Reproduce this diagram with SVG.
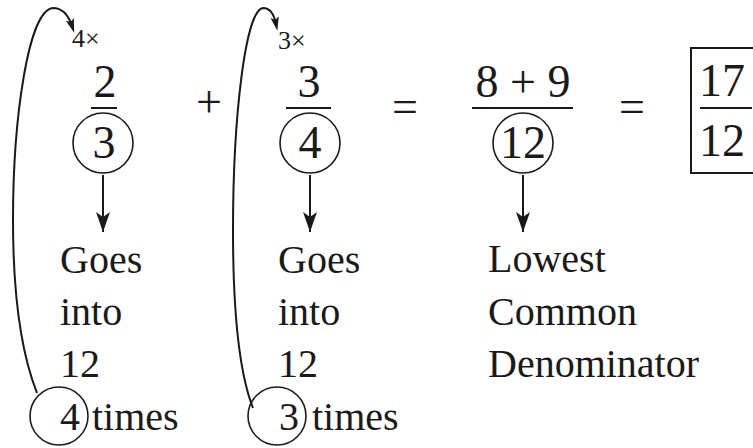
<svg xmlns="http://www.w3.org/2000/svg" width="753" height="448" viewBox="0 0 753 448" font-family="'Liberation Serif', 'DejaVu Serif', serif">
<style>
text{font-family:'Liberation Serif', 'DejaVu Serif', serif;fill:#1a1a1a}
.big{font-size:46px;text-anchor:middle}
.lbl{font-size:40px}
.sm{font-size:26px}
.ring{fill:none;stroke:#1a1a1a;stroke-width:1.6}
.bar{stroke:#1a1a1a;stroke-width:2}
.con{fill:none;stroke:#1a1a1a;stroke-width:2}
</style>
<defs>
<marker id="ah" markerUnits="userSpaceOnUse" markerWidth="14" markerHeight="20" refX="10" refY="10" orient="auto" viewBox="0 0 20 20"><path d="M0,4 L20,10 L0,16 L4,10 Z" fill="#1a1a1a"/></marker>
<marker id="ah2" markerUnits="userSpaceOnUse" markerWidth="20" markerHeight="14" refX="20" refY="7" orient="auto" viewBox="0 0 20 14"><path d="M0,0 L20,7 L0,14 L5,7 Z" fill="#1a1a1a"/></marker>
</defs>
<g id="connectors">
<path class="con" d="M37,393 C20,350 13,290 13,220 C13,120 28,10 53,8 C62,8 68,14 72,26" marker-end="url(#ah)"/>
<path class="con" d="M253,408 C238,370 233,300 233,230 C233,120 245,10 263,8 C270,8 274,14 276,24" marker-end="url(#ah)"/>
<line class="con" x1="103" y1="175" x2="103" y2="232" marker-end="url(#ah2)"/>
<line class="con" x1="310" y1="175" x2="310" y2="232" marker-end="url(#ah2)"/>
<line class="con" x1="523" y1="175" x2="523" y2="232" marker-end="url(#ah2)"/>
</g>
<g id="frac1">
<text class="sm" x="72" y="47">4×</text>
<text class="big" x="105" y="97">2</text>
<line class="bar" x1="91" y1="108" x2="117" y2="108"/>
<circle class="ring" cx="103" cy="143" r="30"/>
<text class="big" x="104" y="158">3</text>
</g>
<g id="plus"><text class="big" x="209" y="117">+</text></g>
<g id="frac2">
<text class="sm" x="278" y="49">3×</text>
<text class="big" x="309" y="97">3</text>
<line class="bar" x1="286" y1="108" x2="331" y2="108"/>
<circle class="ring" cx="310" cy="143" r="30"/>
<text class="big" x="310" y="158">4</text>
</g>
<g id="eq1"><text class="big" x="405" y="122">=</text></g>
<g id="frac3">
<text class="big" x="523" y="97">8 + 9</text>
<line class="bar" x1="472" y1="108" x2="573" y2="108"/>
<circle class="ring" cx="523" cy="143" r="30"/>
<text class="big" x="523" y="158">12</text>
</g>
<g id="eq2"><text class="big" x="632" y="122">=</text></g>
<g id="result">
<path class="con" d="M760,48 L691,48 L691,173 L760,173"/>
<text class="big" x="722" y="96">17</text>
<line class="bar" x1="700" y1="108" x2="752" y2="108"/>
<text class="big" x="722" y="156">12</text>
</g>
<g id="label1">
<text class="lbl" x="60" y="273">Goes</text>
<text class="lbl" x="60" y="325">into</text>
<text class="lbl" x="60" y="377">12</text>
<circle class="ring" cx="59" cy="416" r="29"/>
<text class="lbl" x="70" y="430" text-anchor="middle">4</text>
<text class="lbl" x="92" y="430">times</text>
</g>
<g id="label2">
<text class="lbl" x="278" y="273">Goes</text>
<text class="lbl" x="278" y="325">into</text>
<text class="lbl" x="278" y="377">12</text>
<circle class="ring" cx="277" cy="416" r="29"/>
<text class="lbl" x="289" y="430" text-anchor="middle">3</text>
<text class="lbl" x="312" y="430">times</text>
</g>
<g id="label3">
<text class="lbl" x="488" y="272">Lowest</text>
<text class="lbl" x="488" y="325">Common</text>
<text class="lbl" x="488" y="377">Denominator</text>
</g>
</svg>
